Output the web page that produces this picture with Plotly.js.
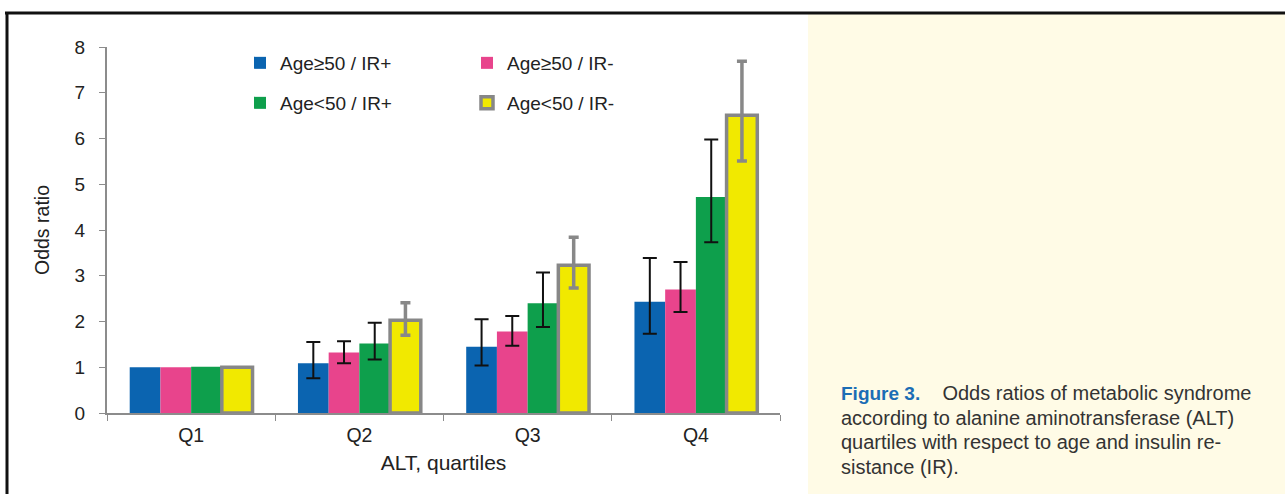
<!DOCTYPE html>
<html>
<head>
<meta charset="utf-8">
<script src="https://cdn.plot.ly/plotly-3.0.1.min.js"></script>
<style>html,body{margin:0;padding:0;background:#fff;}#chart{width:1285px;height:494px;}</style>
</head>
<body>
<div id="chart"></div>
<script>
// ---- data ----
const quartiles = ["Q1", "Q2", "Q3", "Q4"];
const seriesNames = ["Age≥50 / IR+", "Age≥50 / IR-", "Age<50 / IR+", "Age<50 / IR-"];
const old_irPos = [1.00, 1.09, 1.45, 2.43];
const old_irPos_hi = [1.00, 1.55, 2.05, 3.39];
const old_irPos_lo = [1.00, 0.76, 1.04, 1.73];
const old_irNeg = [1.00, 1.32, 1.78, 2.70];
const old_irNeg_hi = [1.00, 1.57, 2.12, 3.30];
const old_irNeg_lo = [1.00, 1.09, 1.47, 2.21];
const young_irPos = [1.01, 1.52, 2.40, 4.72];
const young_irPos_hi = [1.01, 1.97, 3.07, 5.98];
const young_irPos_lo = [1.01, 1.17, 1.88, 3.73];
const young_irNeg = [1.00, 2.03, 3.23, 6.51];
const young_irNeg_hi = [1.00, 2.41, 3.84, 7.69];
const young_irNeg_lo = [1.00, 1.70, 2.73, 5.51];
const yTicks = [0, 1, 2, 3, 4, 5, 6, 7, 8];
const captionLines = [
  '<span style="font-family:Liberation Sans Narrow, Arial Narrow, sans-serif;font-weight:bold;fill:#1b6db5;font-size:19px">Figure 3.</span>&nbsp;&nbsp;&nbsp;&nbsp;Odds ratios of metabolic syndrome',
  'according to alanine aminotransferase (ALT)',
  'quartiles with respect to age and insulin re-',
  'sistance (IR).'
];

const colors = ["#0b64b0", "#e8448c", "#0e9f4c", "#f1e900"];
// reference (Q1) has no interval -> NaN hides the error bar
const up = (v, hi) => v.map((d, i) => hi[i] === d ? NaN : +(hi[i] - d).toFixed(3));
const dn = (v, lo) => v.map((d, i) => lo[i] === d ? NaN : +(d - lo[i]).toFixed(3));

function barTrace(name, vals, hi, lo, color, legend, errColor, errThick, errWidth, lineColor, lineWidth) {
  return {
    type: "bar", x: quartiles, y: vals, name: name, legend: legend,
    marker: {color: color, line: {color: lineColor, width: lineWidth}},
    error_y: {type: "data", symmetric: false,
      array: up(vals, hi), arrayminus: dn(vals, lo),
      color: errColor, thickness: errThick, width: errWidth, visible: true},
    hoverinfo: "x+y+name"
  };
}

const traces = [
  barTrace(seriesNames[0], old_irPos, old_irPos_hi, old_irPos_lo, colors[0], "legend", "#111", 2, 7, "#808080", 0),
  barTrace(seriesNames[1], old_irNeg, old_irNeg_hi, old_irNeg_lo, colors[1], "legend", "#111", 2, 7, "#808080", 0),
  barTrace(seriesNames[2], young_irPos, young_irPos_hi, young_irPos_lo, colors[2], "legend2", "#111", 2, 7, "#808080", 0),
  barTrace(seriesNames[3], young_irNeg, young_irNeg_hi, young_irNeg_lo, colors[3], "legend2", "#888", 3.5, 5, "#878787", 3.5)
];

const FONT = "Liberation Sans, Arial, sans-serif";
// pixel helpers -> paper coords (plot: x 107..780, y 413..47)
const L = 107, R = 780, T = 47, B = 413;
const px = p => (p - L) / (R - L);
const py = p => (B - p) / (B - T);

const captionY = [393, 418, 442, 467];
const annotations = captionLines.map((t, i) => ({
  xref: "paper", yref: "paper", x: px(839), y: py(captionY[i]), xanchor: "left", yanchor: "middle", align: "left",
  showarrow: false, font: {family: FONT, size: 20, color: "#333"}, text: t
}));

const layout = {
  width: 1285, height: 494,
  margin: {l: L, r: 1285 - R, t: T, b: 494 - B, pad: 0},
  paper_bgcolor: "#ffffff", plot_bgcolor: "#ffffff",
  font: {family: FONT, size: 19, color: "#222"},
  barmode: "group", bargap: 0.27, bargroupgap: 0,
  showlegend: true,
  xaxis: {
    type: "category", showgrid: false, zeroline: false,
    showline: true, linecolor: "#8c8c8c", linewidth: 2,
    ticks: "outside", tickson: "boundaries", ticklen: 6, tickcolor: "#8c8c8c", tickwidth: 1,
    ticklabelstandoff: 4,
    tickfont: {family: FONT, size: 19.5, color: "#222"},
    title: {text: "ALT, quartiles", font: {family: FONT, size: 21, color: "#222"}, standoff: 10},
    automargin: false
  },
  yaxis: {
    range: [0, 8], tickvals: yTicks, showgrid: false, zeroline: false,
    showline: true, linecolor: "#8c8c8c", linewidth: 2,
    ticks: "outside", ticklen: 6, tickcolor: "#8c8c8c", tickwidth: 1,
    ticklabelstandoff: 10,
    tickfont: {family: FONT, size: 19, color: "#222"},
    title: {text: "Odds ratio", font: {family: FONT, size: 19.5, color: "#222"}, standoff: 20},
    automargin: false
  },
  legend: {orientation: "h", x: px(240), y: py(63), xanchor: "left", yanchor: "middle",
    entrywidth: 182, font: {family: FONT, size: 19, color: "#222"}, bgcolor: "rgba(0,0,0,0)", borderwidth: 0},
  legend2: {orientation: "h", x: px(240), y: py(103), xanchor: "left", yanchor: "middle",
    entrywidth: 182, font: {family: FONT, size: 19, color: "#222"}, bgcolor: "rgba(0,0,0,0)", borderwidth: 0},
  shapes: [
    {type: "rect", xref: "paper", yref: "paper", x0: px(808), x1: px(1290), y0: py(500), y1: py(14),
      fillcolor: "#fffbe6", line: {width: 0}, layer: "below"},
    {type: "line", xref: "paper", yref: "paper", x0: px(5), x1: px(1290), y0: py(13), y1: py(13),
      line: {color: "#111", width: 3}},
    {type: "line", xref: "paper", yref: "paper", x0: px(7), x1: px(7), y0: py(12), y1: py(500),
      line: {color: "#111", width: 3}}
  ],
  annotations: annotations
};

Plotly.newPlot("chart", traces, layout, {displayModeBar: false, staticPlot: true});
</script>
</body>
</html>
